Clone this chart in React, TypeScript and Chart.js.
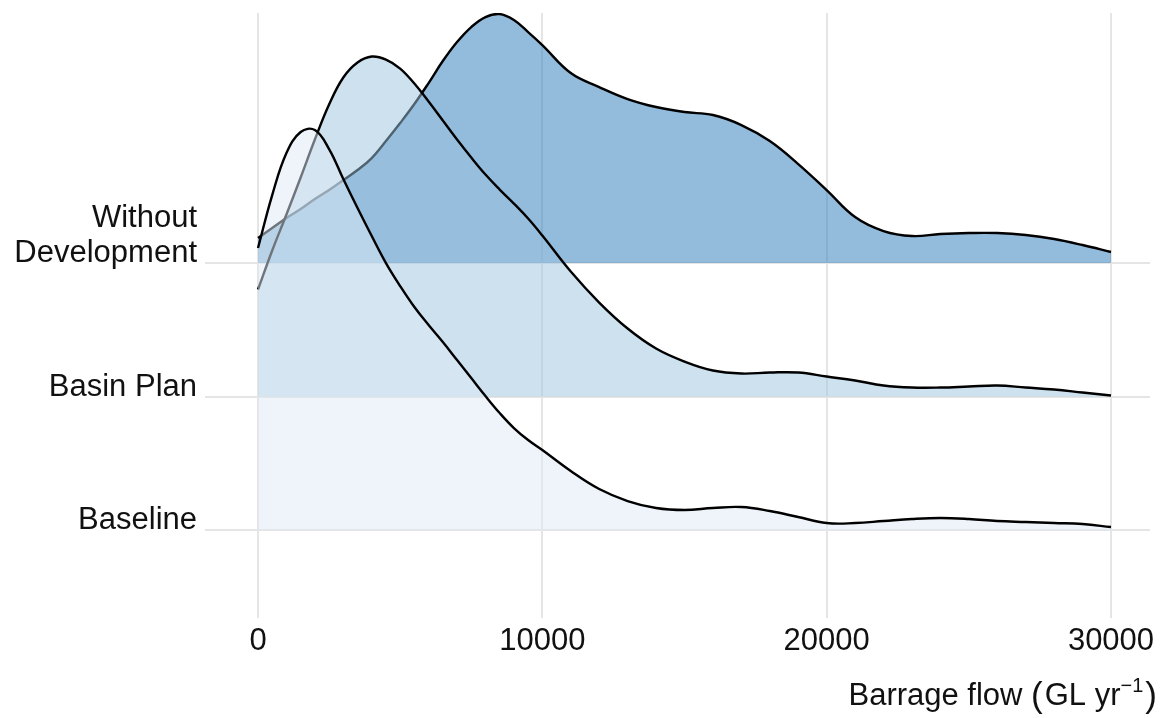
import React, { useEffect, useRef } from 'react';
import { Chart, registerables } from 'chart.js';

Chart.register(...registerables);

// Barrage flow sample points (GL / yr)
const FLOW = [
  0, 500, 1000, 1500, 2000, 2500, 3000, 3500, 4000, 4500, 5000, 5500, 6000, 6500, 7000, 7500, 8000, 8500, 9000,
  9500, 10000, 11000, 12000, 13000, 14000, 15000, 16000, 17000, 18000, 19000, 20000, 21000, 22000, 23000, 24000,
  25000, 26000, 27000, 28000, 29000, 30000,
];

// Ridge rows (bottom to top)
const CATEGORIES = ['Baseline', 'Basin Plan', 'Without Development'];
const CATEGORY_LABEL_LINES = [['Baseline'], ['Basin Plan'], ['Without', 'Development']];

// Relative density heights for each scenario (same scale for all rows)
const BASELINE_DENSITY = [
  282, 335, 377, 398, 400, 381, 351, 322, 294, 267, 244, 223, 205, 188, 170, 152, 134, 117, 102, 90, 80,
  59, 41, 29, 22, 20, 22, 23, 19, 13, 7, 7, 9, 11, 12, 11, 9, 8, 7, 6, 3,
];
const BASIN_PLAN_DENSITY = [
  107, 146, 182, 219, 257, 292, 319, 334, 340, 337, 328, 313, 295, 276, 257, 239, 222, 207, 193, 178, 161,
  125, 94, 68, 48, 35, 26, 23, 24, 24, 20, 16, 11, 9, 9, 10, 11, 9, 7, 4, 1,
];
const WITHOUT_DEV_DENSITY = [
  25, 35, 45, 54, 64, 73, 83, 93, 105, 122, 140, 159, 180, 202, 221, 236, 246, 249, 243, 231, 218,
  190, 176, 164, 156, 151, 148, 138, 122, 99, 73, 46, 32, 27, 29, 30, 30, 28, 24, 18, 11,
];

const DENSITIES = [BASELINE_DENSITY, BASIN_PLAN_DENSITY, WITHOUT_DEV_DENSITY];
const FILL_COLORS = ['rgba(221,233,245,0.5)', 'rgba(155,195,223,0.5)', 'rgba(40,120,185,0.5)'];
const RIDGE_SCALE = 133.5; // density units per row spacing

const X_TICKS = [0, 10000, 20000, 30000];
const X_TITLE_MAIN = 'Barrage flow (GL yr';
const X_TITLE_SUP = '\u22121';
const X_TITLE_END = ')';

const FONT = '"Liberation Sans", Arial, Helvetica, sans-serif';

export default function App() {
  const canvasRef = useRef<HTMLCanvasElement | null>(null);

  useEffect(() => {
    if (!canvasRef.current) return;

    const labelPlugin = {
      id: 'ridgeLabels',
      afterDraw(chart: any) {
        const ctx = chart.ctx;
        const ys = chart.scales.y;
        ctx.save();
        ctx.fillStyle = '#111';
        ctx.font = `31px ${FONT}`;
        ctx.textAlign = 'right';
        ctx.textBaseline = 'alphabetic';
        CATEGORY_LABEL_LINES.forEach((lines, i) => {
          const py = ys.getPixelForValue(i) - 1;
          const rev = lines.slice().reverse();
          rev.forEach((line, j) => {
            ctx.fillText(line, chart.chartArea.left - 8, py - j * 35);
          });
        });
        // x-axis title with superscript
        ctx.textAlign = 'left';
        const mainFont = `31px ${FONT}`;
        const parenFont = `35px ${FONT}`;
        const supFont = `20px ${FONT}`;
        const mainText = X_TITLE_MAIN.replace(' (', ' ');
        ctx.font = mainFont;
        const w1 = ctx.measureText(mainText).width;
        const wg = ctx.measureText('GL yr').width;
        ctx.font = parenFont;
        const wp = ctx.measureText('(').width;
        const w3 = ctx.measureText(X_TITLE_END).width;
        ctx.font = supFont;
        const w2 = ctx.measureText(X_TITLE_SUP).width;
        const right = 1157;
        const base = 705;
        const total = w1 + wp + 2 + w2 + 2 + w3;
        const x0 = right - total;
        const before = mainText.slice(0, mainText.length - 'GL yr'.length);
        ctx.font = mainFont;
        const wb = ctx.measureText(before).width;
        ctx.fillText(before, x0, base);
        ctx.font = parenFont;
        ctx.fillText('(', x0 + wb, base + 2);
        ctx.font = mainFont;
        ctx.fillText('GL yr', x0 + wb + wp + 2, base);
        ctx.font = supFont;
        ctx.fillText(X_TITLE_SUP, x0 + wb + wp + 2 + wg, base - 13);
        ctx.font = parenFont;
        ctx.fillText(X_TITLE_END, x0 + wb + wp + 2 + wg + w2 + 2, base + 2);
        ctx.restore();
      },
    };

    const datasets = CATEGORIES.map((name, i) => ({
      label: name,
      data: FLOW.map((f, j) => ({ x: f, y: i + DENSITIES[i][j] / RIDGE_SCALE })),
      borderColor: '#000',
      borderWidth: 2.4,
      backgroundColor: FILL_COLORS[i],
      fill: { value: i },
      pointRadius: 0,
      tension: 0.4,
    }));

    const chart = new Chart(canvasRef.current, {
      type: 'line',
      data: { datasets },
      options: {
        animation: false,
        responsive: true,
        maintainAspectRatio: false,
        layout: { padding: { top: 13, right: 12, left: 0, bottom: 0 } },
        plugins: {
          legend: { display: false },
          tooltip: { enabled: false },
        },
        scales: {
          x: {
            type: 'linear',
            min: -1864,
            max: 31372,
            afterBuildTicks: (scale: any) => {
              scale.ticks = X_TICKS.map((v) => ({ value: v }));
            },
            afterFit: (scale: any) => {
              scale.height = 100;
            },
            grid: { color: '#e5e5e5', lineWidth: 2, drawTicks: false },
            border: { display: false },
            ticks: {
              color: '#111',
              font: { family: FONT, size: 31 },
              padding: 5,
              maxRotation: 0,
              callback: (v: any) => String(v),
            },
          },
          y: {
            type: 'linear',
            min: -0.659,
            max: 3.873,
            afterBuildTicks: (scale: any) => {
              scale.ticks = CATEGORIES.map((_, i) => ({ value: i }));
            },
            afterFit: (scale: any) => {
              scale.width = 205;
            },
            grid: { color: '#e5e5e5', lineWidth: 2, drawTicks: false },
            border: { display: false },
            ticks: { display: false },
          },
        },
      },
      plugins: [labelPlugin],
    });

    return () => chart.destroy();
  }, []);

  return (
    <div style={{ position: 'fixed', left: 0, top: 0, width: 1162, height: 718, background: '#fff' }}>
      <canvas ref={canvasRef} />
    </div>
  );
}
